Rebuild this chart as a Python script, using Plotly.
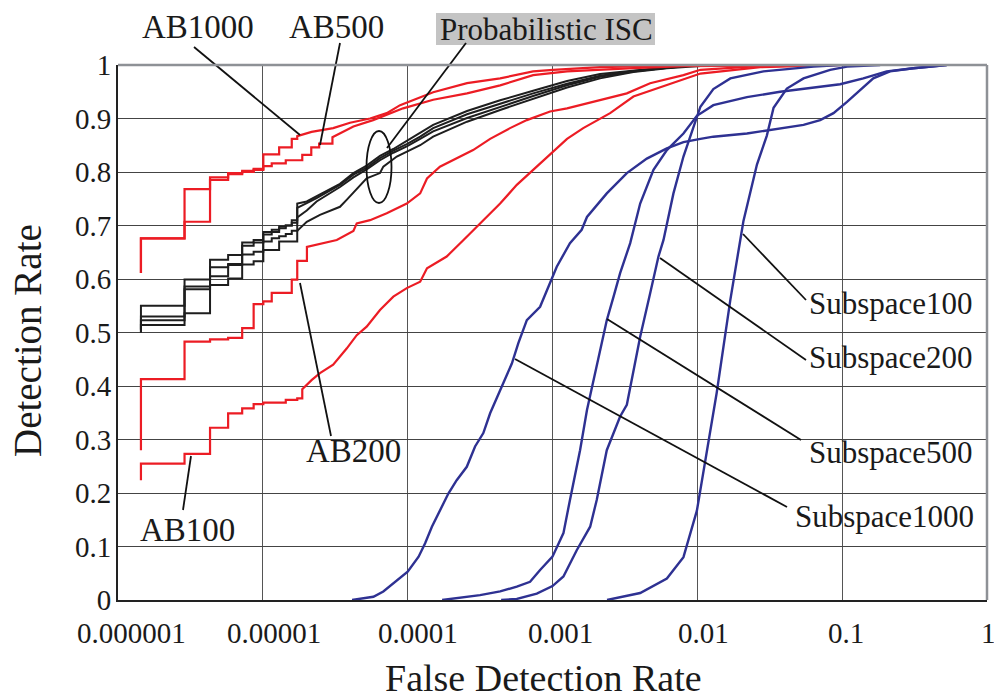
import plotly.graph_objects as go

# ---------------- data ----------------
fdr_ticks = [1e-6, 1e-5, 1e-4, 1e-3, 1e-2, 1e-1, 1]
fdr_tick_text = ["0.000001", "0.00001", "0.0001", "0.001", "0.01", "0.1", "1"]
dr_ticks = [0, 0.1, 0.2, 0.3, 0.4, 0.5, 0.6, 0.7, 0.8, 0.9, 1.0]
dr_tick_text = ["0", "0.1", "0.2", "0.3", "0.4", "0.5", "0.6", "0.7", "0.8", "0.9", "1"]

# AdaBoost curves: discrete steps at low FDR, then a dense tail
ab1000_step_x = [1.44e-6, 1.44e-6, 2.88e-6, 4.32e-6, 5.76e-6, 7.2e-6, 8.64e-6, 1.008e-5, 1.296e-5, 1.584e-5, 1.728e-5]
ab1000_step_y = [0.611, 0.676, 0.768, 0.790, 0.798, 0.802, 0.806, 0.833, 0.846, 0.862, 0.867]
ab1000_tail_x = [2.17e-5, 3.06e-5, 4.0e-5, 5.5e-5, 7.17e-5, 8.87e-5, 1.50e-4, 2.57e-4, 4.35e-4, 7.35e-4, 1.01e-3, 2.13e-3, 6.16e-3, 0.102]
ab1000_tail_y = [0.875, 0.882, 0.892, 0.900, 0.910, 0.925, 0.949, 0.966, 0.975, 0.988, 0.991, 0.996, 0.999, 1.0]

ab500_step_x = [1.44e-6, 1.44e-6, 2.88e-6, 4.32e-6, 5.76e-6, 7.2e-6, 8.64e-6, 1.008e-5, 1.152e-5, 1.44e-5, 1.872e-5, 2.16e-5, 2.448e-5, 3.024e-5]
ab500_step_y = [0.611, 0.676, 0.707, 0.785, 0.796, 0.800, 0.804, 0.811, 0.816, 0.822, 0.832, 0.846, 0.853, 0.865]
ab500_tail_x = [4.22e-5, 5.77e-5, 9.30e-5, 1.50e-4, 2.57e-4, 4.35e-4, 7.35e-4, 1.26e-3, 3.62e-3, 8.02e-3, 0.114]
ab500_tail_y = [0.885, 0.897, 0.919, 0.935, 0.947, 0.962, 0.981, 0.988, 0.994, 0.998, 1.0]

ab200_step_x = [1.44e-6, 1.44e-6, 2.88e-6, 4.32e-6, 5.76e-6, 7.2e-6, 8.64e-6, 1.008e-5, 1.152e-5, 1.584e-5, 1.728e-5, 2.016e-5]
ab200_step_y = [0.280, 0.413, 0.483, 0.487, 0.490, 0.508, 0.553, 0.558, 0.574, 0.599, 0.634, 0.660]
ab200_tail_x = [3.24e-5, 4.22e-5, 4.45e-5, 5.50e-5, 7.17e-5, 9.86e-5, 1.22e-4, 1.36e-4, 1.67e-4, 2.18e-4, 2.83e-4, 3.71e-4,
                5.09e-4, 6.65e-4, 9.62e-4, 1.26e-3, 2.13e-3, 3.26e-3, 4.72e-3, 8.02e-3, 1.05e-2, 2.32e-2, 8.67e-2]
ab200_tail_y = [0.673, 0.690, 0.704, 0.710, 0.723, 0.741, 0.760, 0.788, 0.810, 0.825, 0.841, 0.862,
                0.882, 0.897, 0.913, 0.919, 0.935, 0.947, 0.966, 0.981, 0.991, 0.997, 1.0]

ab100_step_x = [1.44e-6, 1.44e-6, 2.88e-6, 4.32e-6, 5.76e-6, 7.2e-6, 8.64e-6, 1.008e-5, 1.44e-5, 1.728e-5, 1.872e-5]
ab100_step_y = [0.224, 0.255, 0.273, 0.322, 0.349, 0.358, 0.366, 0.369, 0.374, 0.377, 0.394]
ab100_tail_x = [2.17e-5, 2.48e-5, 3.06e-5, 3.79e-5, 4.45e-5, 5.21e-5, 6.44e-5, 7.96e-5, 9.86e-5, 1.22e-4, 1.36e-4, 1.86e-4,
                2.43e-4, 3.16e-4, 4.35e-4, 5.67e-4, 7.35e-4, 9.62e-4, 1.26e-3, 1.63e-3, 2.50e-3, 3.62e-3, 6.16e-3,
                8.47e-3, 1.05e-2, 2.72e-2, 9.68e-2]
ab100_tail_y = [0.411, 0.424, 0.440, 0.470, 0.495, 0.511, 0.542, 0.567, 0.583, 0.595, 0.620, 0.642,
                0.673, 0.704, 0.741, 0.776, 0.804, 0.832, 0.862, 0.882, 0.910, 0.941, 0.963,
                0.975, 0.984, 0.996, 1.0]

# Probabilistic ISC (four runs)
isc_step_x = [1.44e-6, 1.44e-6, 2.88e-6, 4.32e-6, 5.76e-6, 7.2e-6, 8.64e-6, 1.008e-5, 1.152e-5, 1.296e-5, 1.44e-5, 1.584e-5, 1.728e-5]
isc1_step_y = [0.500, 0.550, 0.599, 0.636, 0.645, 0.668, 0.673, 0.688, 0.692, 0.698, 0.700, 0.710, 0.741]
isc2_step_y = [0.505, 0.530, 0.586, 0.622, 0.628, 0.662, 0.668, 0.683, 0.688, 0.695, 0.700, 0.705, 0.733]
isc3_step_y = [0.505, 0.523, 0.581, 0.605, 0.626, 0.646, 0.651, 0.670, 0.676, 0.680, 0.684, 0.690, 0.715]
isc4_step_y = [0.500, 0.514, 0.536, 0.589, 0.601, 0.627, 0.633, 0.654, 0.654, 0.670, 0.670, 0.670, 0.690]
isc_tail_x = [2.01e-5, 2.35e-5, 3.41e-5, 4.22e-5, 5.21e-5, 6.44e-5, 7.96e-5, 9.86e-5, 1.22e-4, 1.50e-4, 2.57e-4,
              4.35e-4, 7.35e-4, 1.26e-3, 2.13e-3, 3.62e-3, 6.16e-3, 9.41e-3, 3.0e-2]
isc1_tail_y = [0.745, 0.755, 0.778, 0.798, 0.812, 0.830, 0.843, 0.858, 0.873, 0.888, 0.914,
               0.934, 0.952, 0.970, 0.983, 0.990, 0.996, 0.999, 1.0]
isc2_tail_y = [0.742, 0.751, 0.776, 0.795, 0.808, 0.826, 0.840, 0.852, 0.866, 0.882, 0.908,
               0.928, 0.947, 0.965, 0.980, 0.989, 0.995, 0.999, 1.0]
isc3_tail_y = [0.728, 0.745, 0.772, 0.790, 0.805, 0.822, 0.836, 0.848, 0.862, 0.876, 0.901,
               0.922, 0.942, 0.962, 0.978, 0.988, 0.995, 0.999, 1.0]
isc4_tail_x = [2.01e-5, 2.48e-5, 3.06e-5, 3.41e-5, 3.79e-5, 5.21e-5, 6.44e-5, 6.79e-5, 8.41e-5, 1.22e-4, 1.50e-4,
               2.57e-4, 4.35e-4, 7.35e-4, 1.26e-3, 2.13e-3, 3.62e-3, 6.16e-3, 1.05e-2, 3.0e-2]
isc4_tail_y = [0.707, 0.720, 0.729, 0.735, 0.748, 0.788, 0.798, 0.810, 0.829, 0.850, 0.866,
               0.894, 0.916, 0.936, 0.958, 0.975, 0.987, 0.994, 0.998, 1.0]

# Subspace curves
sub1000_x = [4.13e-5, 5.80e-5, 6.79e-5, 7.96e-5, 1.0e-4, 1.19e-4, 1.32e-4, 1.47e-4, 1.67e-4, 1.91e-4, 2.18e-4, 2.56e-4,
             2.92e-4, 3.33e-4, 3.71e-4, 4.35e-4, 5.24e-4, 5.81e-4, 6.65e-4, 8.21e-4, 9.62e-4, 1.07e-3, 1.32e-3, 1.59e-3,
             1.73e-3, 2.37e-3, 3.26e-3, 4.48e-3, 6.16e-3, 8.02e-3, 1.05e-2, 1.29e-2, 2.20e-2, 3.73e-2, 5.41e-2, 7.05e-2,
             8.71e-2, 0.108, 0.133, 0.164, 0.214, 0.310, 0.527]
sub1000_y = [0.0, 0.006, 0.016, 0.031, 0.053, 0.081, 0.106, 0.137, 0.168, 0.199, 0.224, 0.249,
             0.287, 0.312, 0.349, 0.392, 0.442, 0.480, 0.523, 0.548, 0.592, 0.623, 0.667, 0.692,
             0.716, 0.760, 0.798, 0.825, 0.844, 0.856, 0.862, 0.866, 0.872, 0.882, 0.888, 0.897,
             0.910, 0.931, 0.953, 0.975, 0.988, 0.994, 1.0]
sub500_x = [1.73e-4, 3.16e-4, 4.35e-4, 5.67e-4, 7.00e-4, 8.21e-4, 1.0e-3, 1.19e-3, 1.32e-3, 1.55e-3, 1.73e-3, 2.13e-3,
            2.37e-3, 2.64e-3, 2.93e-3, 3.44e-3, 4.03e-3, 4.98e-3, 6.16e-3, 8.02e-3, 9.93e-3, 1.29e-2, 2.20e-2, 3.73e-2,
            6.34e-2, 9.68e-2, 0.140, 0.203, 0.310, 0.527]
sub500_y = [0.0, 0.009, 0.016, 0.025, 0.034, 0.056, 0.081, 0.125, 0.187, 0.280, 0.355, 0.467,
            0.523, 0.567, 0.611, 0.667, 0.741, 0.804, 0.841, 0.872, 0.905, 0.925, 0.940, 0.950,
            0.957, 0.964, 0.975, 0.988, 0.994, 1.0]
sub200_x = [4.42e-4, 5.67e-4, 7.79e-4, 1.0e-3, 1.19e-3, 1.47e-3, 1.82e-3, 2.02e-3, 2.37e-3, 2.93e-3, 3.26e-3, 3.62e-3,
            4.03e-3, 4.72e-3, 5.39e-3, 5.84e-3, 6.84e-3, 8.02e-3, 9.41e-3, 1.05e-2, 1.29e-2, 1.69e-2, 2.86e-2, 6.34e-2,
            9.68e-2]
sub200_y = [0.0, 0.002, 0.012, 0.026, 0.044, 0.093, 0.137, 0.187, 0.280, 0.343, 0.365, 0.430,
            0.492, 0.573, 0.642, 0.673, 0.760, 0.829, 0.885, 0.922, 0.955, 0.975, 0.988, 0.997,
            1.0]
sub100_x = [2.38e-3, 4.03e-3, 6.16e-3, 8.02e-3, 9.93e-3, 1.16e-2, 1.36e-2, 1.69e-2, 2.08e-2, 2.58e-2, 3.02e-2,
            3.36e-2, 4.15e-2, 5.41e-2, 8.26e-2, 0.108, 0.183]
sub100_y = [0.0, 0.013, 0.040, 0.080, 0.167, 0.280, 0.387, 0.561, 0.708, 0.814, 0.868,
            0.920, 0.956, 0.975, 0.991, 0.997, 1.0]

# ---------------- styling / layout helpers ----------------
RED = "#ec1c24"
BLUE = "#2e3192"
BLACK = "#1e1e1e"
FONT = "Liberation Serif"

W, H = 994, 700
L, R, T, B = 118, 987, 65, 600  # plot area in pixels


def px(xp):
    return (xp - L) / (R - L)


def py(yp):
    return (B - yp) / (B - T)


def staircase(step_x, step_y, tail_x, tail_y):
    xs, ys = [step_x[0]], [step_y[0]]
    for i in range(1, len(step_x)):
        xs += [step_x[i], step_x[i]]
        ys += [step_y[i - 1], step_y[i]]
    return xs + list(tail_x), ys + list(tail_y)


fig = go.Figure()

# Probabilistic ISC (black)
for sy, tx, ty in [(isc1_step_y, isc_tail_x, isc1_tail_y),
                   (isc2_step_y, isc_tail_x, isc2_tail_y),
                   (isc3_step_y, isc_tail_x, isc3_tail_y),
                   (isc4_step_y, isc4_tail_x, isc4_tail_y)]:
    xs, ys = staircase(isc_step_x, sy, tx, ty)
    fig.add_trace(go.Scatter(x=xs, y=ys, mode="lines", line=dict(color=BLACK, width=2),
                             showlegend=False, hoverinfo="skip"))

# AdaBoost (red)
for sx, sy, tx, ty in [(ab1000_step_x, ab1000_step_y, ab1000_tail_x, ab1000_tail_y),
                       (ab500_step_x, ab500_step_y, ab500_tail_x, ab500_tail_y),
                       (ab200_step_x, ab200_step_y, ab200_tail_x, ab200_tail_y),
                       (ab100_step_x, ab100_step_y, ab100_tail_x, ab100_tail_y)]:
    xs, ys = staircase(sx, sy, tx, ty)
    fig.add_trace(go.Scatter(x=xs, y=ys, mode="lines", line=dict(color=RED, width=2.2),
                             showlegend=False, hoverinfo="skip"))

# Subspace (blue)
for xs, ys in [(sub1000_x, sub1000_y), (sub500_x, sub500_y), (sub200_x, sub200_y), (sub100_x, sub100_y)]:
    fig.add_trace(go.Scatter(x=xs, y=ys, mode="lines", line=dict(color=BLUE, width=2.4),
                             showlegend=False, hoverinfo="skip"))

# leader lines (pixel positions of the reference drawing)
leaders = [
    ((194, 47), (300, 135)),    # AB1000
    ((340, 43), (320, 145)),    # AB500
    ((466, 43), (387, 148)),    # Probabilistic ISC
    ((300, 283), (331, 436)),   # AB200
    ((191, 456), (183, 510)),   # AB100
    ((743, 234), (806, 300)),   # Subspace100
    ((660, 258), (806, 360)),   # Subspace200
    ((607, 319), (801, 440)),   # Subspace500
    ((515, 359), (787, 507)),   # Subspace1000
]
shapes = []
for (x0, y0), (x1, y1) in leaders:
    shapes.append(dict(type="line", xref="paper", yref="paper",
                       x0=px(x0), y0=py(y0), x1=px(x1), y1=py(y1),
                       line=dict(color="#111111", width=1.8)))
# ellipse around the ISC bundle
shapes.append(dict(type="circle", xref="paper", yref="paper",
                   x0=px(366.5), x1=px(391.5), y0=py(203), y1=py(131),
                   line=dict(color="#111111", width=1.8)))
# grey box behind "Probabilistic ISC"
shapes.append(dict(type="rect", xref="paper", yref="paper",
                   x0=px(436), x1=px(655), y0=py(45), y1=py(13),
                   fillcolor="#c4c4c4", line=dict(width=0), layer="below"))
# frame top and right (grey)
shapes.append(dict(type="line", xref="paper", yref="paper", x0=0, x1=1, y0=1, y1=1,
                   line=dict(color="#8e9196", width=2.5)))
shapes.append(dict(type="line", xref="paper", yref="paper", x0=1, x1=1, y0=0, y1=1,
                   line=dict(color="#8e9196", width=2.5)))

labels = [
    ("AB1000", 198, 27),
    ("AB500", 336, 27),
    ("Probabilistic ISC", 546, 29),
    ("AB200", 353, 451),
    ("AB100", 187, 530),
    ("Subspace100", 891, 303),
    ("Subspace200", 891, 357),
    ("Subspace500", 891, 452),
    ("Subspace1000", 884, 516),
]
annotations = []
for text, xx, yy in labels:
    size = 33 if text.startswith("AB") else 31
    annotations.append(dict(text=text, xref="paper", yref="paper", x=px(xx), y=py(yy),
                            xanchor="center", yanchor="middle", showarrow=False,
                            font=dict(family=FONT, size=size, color="#1a1a1a")))

# x tick labels, placed where the reference prints them (slightly right of each decade line)
xtick_label_px = [131, 274, 418, 560, 703, 846, 988]
for text, xx in zip(fdr_tick_text, xtick_label_px):
    annotations.append(dict(text=text, xref="paper", yref="paper", x=px(xx), y=py(633),
                            xanchor="center", yanchor="middle", showarrow=False,
                            font=dict(family=FONT, size=29, color="#1a1a1a")))

annotations.append(dict(text="False Detection Rate", xref="paper", yref="paper",
                        x=px(543), y=py(700), xanchor="center", yanchor="bottom", showarrow=False,
                        borderpad=0,
                        font=dict(family=FONT, size=38, color="#1a1a1a")))
annotations.append(dict(text="Detection Rate", xref="paper", yref="paper",
                        x=px(27), y=py(341), xanchor="center", yanchor="middle", showarrow=False,
                        textangle=-90, font=dict(family=FONT, size=39, color="#1a1a1a")))

fig.update_layout(
    width=W, height=H,
    margin=dict(l=L, r=W - R, t=T, b=H - B, pad=0),
    paper_bgcolor="white", plot_bgcolor="white",
    shapes=shapes, annotations=annotations,
    xaxis=dict(type="log", range=[-6, 0], tickvals=fdr_ticks, ticktext=fdr_tick_text,
               showticklabels=False,
               showgrid=True, gridcolor="#555555", gridwidth=1,
               showline=True, linecolor="#222222", linewidth=2, mirror=False,
               ticks="", zeroline=False),
    yaxis=dict(range=[0, 1], tickvals=dr_ticks, ticktext=dr_tick_text,
               showgrid=True, gridcolor="#444444", gridwidth=1,
               showline=True, linecolor="#222222", linewidth=2, mirror=False,
               ticks="", ticklabelstandoff=-1, zeroline=False,
               tickfont=dict(family=FONT, size=29, color="#1a1a1a")),
)

fig.write_html("out.html")
